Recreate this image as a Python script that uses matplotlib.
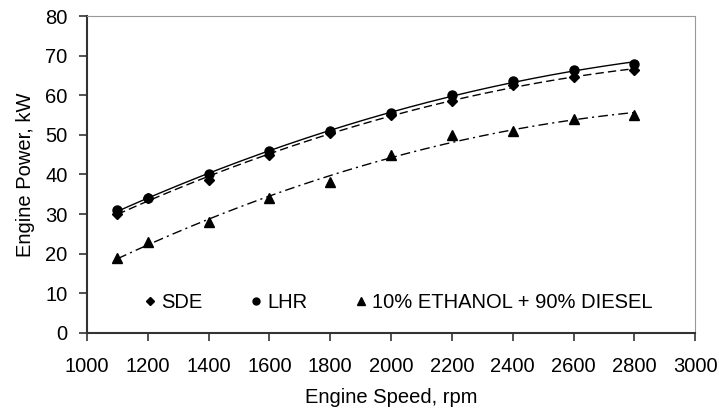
import matplotlib
matplotlib.use("Agg")
import matplotlib.pyplot as plt
import numpy as np
from matplotlib.lines import Line2D

plt.rcParams['font.family'] = ['Liberation Sans', 'DejaVu Sans']

speed = [1100, 1200, 1400, 1600, 1800, 2000, 2200, 2400, 2600, 2800]
sde = [30, 34, 38.5, 45, 50.5, 55, 58.5, 62.5, 64.5, 66.5]
lhr = [31, 34, 40, 46, 51, 55.5, 60, 63.5, 66.5, 68]
ethanol = [19, 23, 28, 34, 38, 45, 50, 51, 54, 55]

fig = plt.figure(figsize=(7.19, 4.11), dpi=100)
ax = fig.add_axes([0.121, 0.19, 0.846, 0.771])

xs = np.linspace(speed[0], speed[-1], 200)
series = [(sde, 'D', (0, (6, 3)), 5.5, 4.5, 'SDE'),
          (lhr, 'o', '-', 6.5, 5, 'LHR'),
          (ethanol, '^', (0, (7, 3, 1.5, 3)), 7.5, 5.5, '10% ETHANOL + 90% DIESEL')]
handles = []
for vals, mk, ls, ms, lms, name in series:
    # excel style 2nd order trend line through the points
    c = np.polyfit(speed, vals, 2)
    ax.plot(xs, np.polyval(c, xs), color='black', linestyle=ls, linewidth=1.0)
    ax.plot(speed, vals, linestyle='none', marker=mk, color='black', markersize=ms)
    handles.append(Line2D([], [], linestyle='none', marker=mk, color='black', markersize=lms, label=name))

fs = 14.5
ax.set_xlim(1000, 3000)
ax.set_ylim(0, 80)
ax.set_xticks(range(1000, 3001, 200))
ax.set_yticks(range(0, 81, 10))
ax.tick_params(labelsize=fs, direction='out', length=6, width=1.2, color='#333333')
ax.tick_params(axis='x', pad=11)
ax.tick_params(axis='y', pad=8)
for s in ['top', 'right']:
    ax.spines[s].set_color('#999999')
for s in ['left', 'bottom']:
    ax.spines[s].set_color('#333333')
    ax.spines[s].set_linewidth(1.5)

ax.set_xlabel('Engine Speed, rpm', fontsize=fs, labelpad=9)
ax.set_ylabel('Engine Power, kW', fontsize=fs, labelpad=7)

ax.legend(handles=handles, loc='center left', bbox_to_anchor=(0.095, 0.095), ncol=3,
          frameon=False, fontsize=fs, handlelength=0.5, handletextpad=0.32,
          columnspacing=2.4, borderpad=0, borderaxespad=0)

fig.savefig('out.png', dpi=100)
